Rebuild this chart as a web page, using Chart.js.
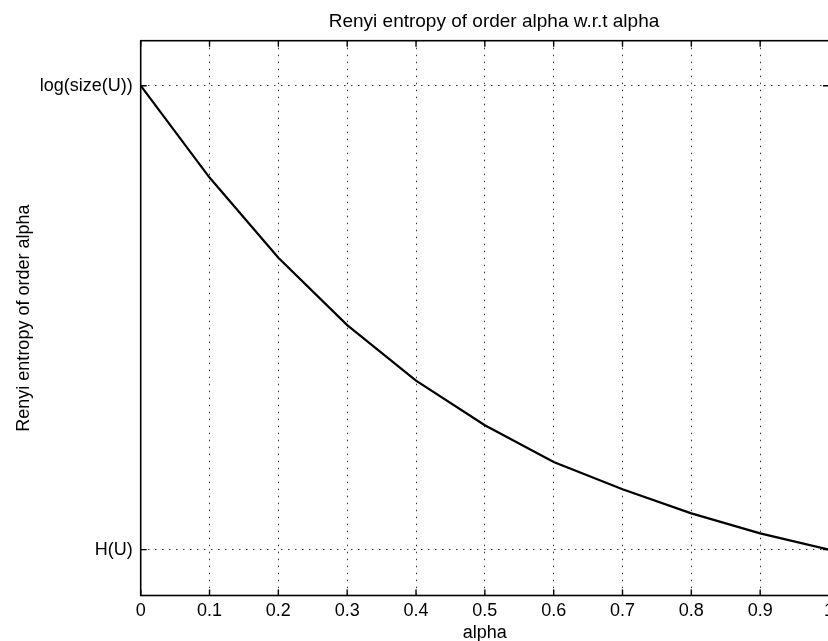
<!DOCTYPE html>
<html><head><meta charset="utf-8">
<script src="https://cdn.jsdelivr.net/npm/chart.js@4.4.0/dist/chart.umd.min.js"></script>
<style>
html,body{margin:0;padding:0;background:#fff;overflow:hidden;width:828px;height:641px}
#wrap{position:absolute;left:0;top:0;width:860px;height:641px}
</style>
</head><body><div id="wrap"><canvas id="c" width="860" height="641"></canvas></div>
<script>
// ---- data ----
const alphaValues   = [0, 0.1, 0.2, 0.3, 0.4, 0.5, 0.6, 0.7, 0.8, 0.9, 1.0];
const entropyValues = [1.000, 0.802, 0.629, 0.484, 0.364, 0.268, 0.189, 0.130, 0.078, 0.035, 0.000];
const xTickValues = [0, 0.1, 0.2, 0.3, 0.4, 0.5, 0.6, 0.7, 0.8, 0.9, 1.0];
const xTickLabels = ['0', '0.1', '0.2', '0.3', '0.4', '0.5', '0.6', '0.7', '0.8', '0.9', '1'];
const yTickValues = [0, 1];
const yTickLabels = ['H(U)', 'log(size(U))'];
const chartTitle = 'Renyi entropy of order alpha w.r.t alpha';
const xAxisTitle = 'alpha';
const yAxisTitle = 'Renyi entropy of order alpha';

const FONT = '"Liberation Sans", Arial, Helvetica, sans-serif';

const boxPlugin = {
  id: 'matlabBox',
  afterDatasetsDraw(chart) {
    const ctx = chart.ctx, ca = chart.chartArea;
    const xs = chart.scales.x, ys = chart.scales.y;
    const tl = 6;
    ctx.save();
    ctx.strokeStyle = '#000';
    ctx.lineWidth = 1.6;
    ctx.setLineDash([]);
    ctx.strokeRect(ca.left, ca.top, ca.right - ca.left, ca.bottom - ca.top);
    ctx.lineWidth = 1.4;
    ctx.beginPath();
    xs.ticks.forEach(t => {
      const px = xs.getPixelForValue(t.value);
      ctx.moveTo(px, ca.bottom); ctx.lineTo(px, ca.bottom - tl);
      ctx.moveTo(px, ca.top); ctx.lineTo(px, ca.top + tl);
    });
    ys.ticks.forEach(t => {
      const py = ys.getPixelForValue(t.value);
      ctx.moveTo(ca.left, py); ctx.lineTo(ca.left + tl, py);
      ctx.moveTo(ca.right, py); ctx.lineTo(ca.right - tl, py);
    });
    ctx.stroke();
    ctx.restore();
  }
};

const titlePlugin = {
  id: 'offsetTitle',
  afterDraw(chart) {
    const ctx = chart.ctx;
    ctx.save();
    ctx.fillStyle = '#000';
    ctx.font = '19px ' + FONT;
    ctx.textAlign = 'center';
    ctx.textBaseline = 'alphabetic';
    ctx.fillText(chartTitle, 494, 27);
    ctx.restore();
  }
};

const gridColor = ctx => (ctx.tick && (ctx.tick.value === 0 || ctx.tick.value === 1)) ? 'rgba(0,0,0,0)' : '#333';

new Chart(document.getElementById('c'), {
  type: 'line',
  data: {
    datasets: [{
      data: alphaValues.map((a, i) => ({ x: a, y: entropyValues[i] })),
      borderColor: '#000',
      borderWidth: 2.2,
      pointRadius: 0,
      tension: 0,
      fill: false
    }]
  },
  options: {
    responsive: false,
    animation: false,
    devicePixelRatio: 1,
    layout: { padding: { top: 40.7, left: 0, right: 31, bottom: 0 } },
    plugins: { legend: { display: false }, title: { display: false }, tooltip: { enabled: false } },
    scales: {
      x: {
        type: 'linear', min: 0, max: 1,
        afterBuildTicks: s => { s.ticks = xTickValues.map(v => ({ value: v })); },
        afterFit: s => { s.height = 45.5; },
        ticks: {
          callback: (v, i) => xTickLabels[i],
          font: { family: FONT, size: 18 }, color: '#000',
          padding: 5, maxRotation: 0, autoSkip: false
        },
        grid: { color: gridColor, lineWidth: 1, drawTicks: false },
        border: { display: false, dash: [1.5, 5.5] },
        title: { display: true, text: xAxisTitle, font: { family: FONT, size: 18 }, color: '#000', padding: { top: 0, bottom: -3 } }
      },
      y: {
        type: 'linear', min: -0.099, max: 1.097,
        afterBuildTicks: s => { s.ticks = yTickValues.map(v => ({ value: v })); },
        afterFit: s => { s.width = 140.7; },
        ticks: {
          callback: (v, i) => yTickLabels[i],
          font: { family: FONT, size: 18 }, color: '#000',
          padding: 8, autoSkip: false
        },
        grid: { color: '#333', lineWidth: 1, drawTicks: false },
        border: { display: false, dash: [1.5, 5.5] },
        title: { display: true, text: yAxisTitle, font: { family: FONT, size: 18 }, color: '#000', padding: { top: 13.2, bottom: 0 } }
      }
    }
  },
  plugins: [boxPlugin, titlePlugin]
});
</script>
</body></html>
